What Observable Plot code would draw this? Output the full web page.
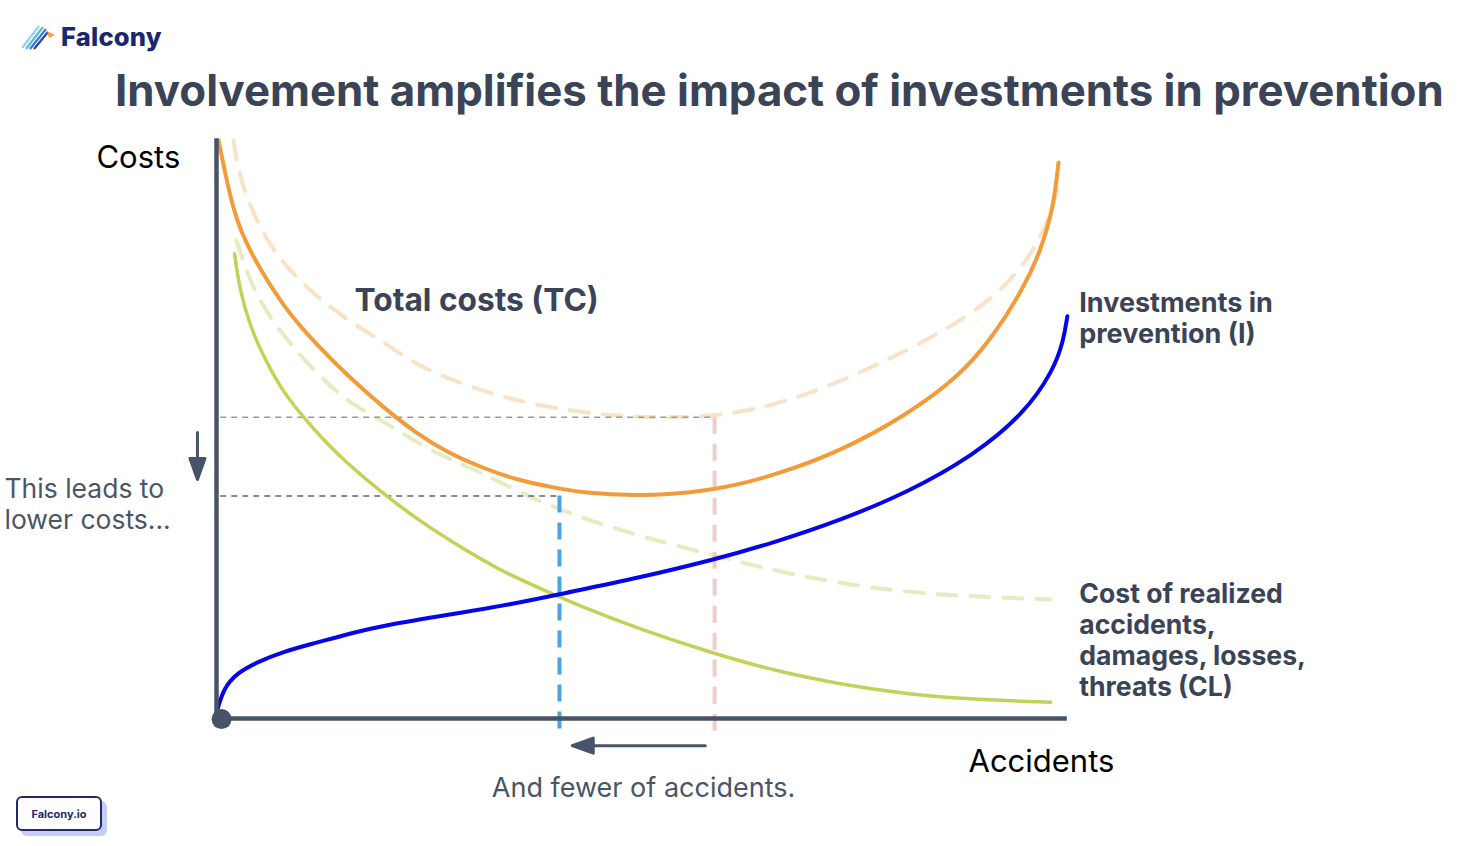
<!DOCTYPE html>
<html><head><meta charset="utf-8">
<script src="https://cdn.jsdelivr.net/npm/d3@7"></script>
<script src="https://cdn.jsdelivr.net/npm/@observablehq/plot@0.6"></script>
<style>
body{margin:0;background:#fff;font-family:Inter,"Noto Sans",sans-serif;}
#page{position:relative;width:1478px;height:846px;overflow:hidden;background:#fff;}
#header{position:relative;height:120px;}
#logo{position:absolute;left:19px;top:21px;display:flex;align-items:center;}
#logo span{font-weight:800;font-size:25.5px;color:#1b2670;margin-left:4px;letter-spacing:0.2px;}
#title{position:absolute;left:115px;top:65px;font-size:43.8px;line-height:52px;font-weight:700;color:#3a4456;white-space:nowrap;}
#badge{position:absolute;left:16px;top:796px;width:82px;height:31px;border:2px solid #1f2a6b;border-radius:6px;box-shadow:5px 5px 0 #c5cdf5;font-size:11px;font-weight:700;color:#1f2a6b;display:flex;align-items:center;justify-content:center;background:#fff;}
#chart svg{display:block;}
</style></head>
<body>
<div id="page">
  <div id="header">
    <div id="logo">
      <svg width="38" height="28" viewBox="0 0 38 28">
        <line x1="3" y1="25" x2="20" y2="3" stroke="#8fd8ea" stroke-width="2.2"/>
        <line x1="7" y1="26" x2="24" y2="4" stroke="#5fb6e4" stroke-width="2.2"/>
        <line x1="11" y1="26" x2="27" y2="6" stroke="#3b78cf" stroke-width="2.2"/>
        <line x1="15" y1="26" x2="29" y2="9" stroke="#2a44a8" stroke-width="2.2"/>
        <path d="M28 8 L36 12 L30 15 Z" fill="#f2a43a"/>
      </svg>
      <span>Falcony</span>
    </div>
    <div id="title">Involvement amplifies the impact of investments in prevention</div>
  </div>
  <div id="chart"></div>
  <div id="badge">Falcony.io</div>
</div>
<script>
// Conceptual curves (x = accidents, y = costs) (0–100 units)
const totalCosts = [[0.24,100],[2.0,87.2],[3.88,80.8],[7.88,71.1],[11.76,64.7],[15.65,59.0],[19.65,53.8],[23.53,49.3],[27.41,45.8],[31.41,43.3],[35.29,41.3],[39.18,40.1],[43.18,39.0],[49.88,38.4],[58.59,39.4],[65.53,42.0],[73.41,46.2],[81.29,52.6],[87.18,59.0],[91.06,65.4],[94.94,74.4],[96.94,80.8],[98.47,88.4],[99.06,96.2]];
const totalCostsBefore = [[2.0,100],[2.71,93.6],[4.35,87.2],[6.24,82.0],[8.59,77.5],[11.76,73.0],[15.65,68.7],[19.65,65.1],[23.53,61.2],[27.41,58.7],[33.29,55.7],[39.18,53.8],[45.06,52.6],[49.88,52.1],[58.59,52.1],[65.53,54.2],[71.41,57.1],[77.29,60.9],[83.18,65.1],[89.06,70.2],[93.06,75.1],[96.12,80.8],[98.12,87.0],[98.9,91.5]];
const accidentCosts = [[2.12,80.4],[2.71,74.4],[3.88,68.0],[5.88,61.6],[7.88,56.4],[10.24,52.1],[13.76,46.2],[19.65,38.8],[23.53,34.6],[27.41,30.8],[33.29,25.6],[39.18,21.8],[43.18,19.2],[49.88,15.4],[58.59,11.2],[65.53,8.3],[73.41,5.9],[81.29,4.2],[89.06,3.3],[98.12,2.8]];
const accidentCostsBefore = [[2.35,82.7],[3.18,78.9],[4.71,73.0],[7.88,66.1],[11.76,59.7],[15.65,54.5],[19.65,51.4],[23.53,47.8],[27.41,44.8],[31.41,42.4],[35.29,39.4],[39.18,36.9],[43.18,34.6],[49.88,31.5],[58.59,28.2],[65.53,25.6],[73.41,23.4],[81.29,21.8],[89.06,21.1],[98.12,20.6]];
const prevention = [[0,1.0],[0.82,5.2],[2.35,7.8],[4.71,9.7],[7.88,11.6],[11.76,13.1],[15.65,14.7],[19.65,16.1],[27.41,18.0],[35.29,19.9],[40.35,21.5],[49.88,24.4],[58.59,27.5],[65.53,30.4],[73.41,34.3],[81.29,39.1],[89.06,45.5],[94.94,52.6],[98.47,60.2],[99.65,65.4],[100.1,69.6]];
const oldOptimum = [{x: 58.6, y: 52.1}];
const newOptimum = [{x: 40.35, y: 38.5}];
const origin = [{x: 0.6, y: -0.1}];

const axisColor = "#475467";
const textDark = "#3a4456";
const textGray = "#4a5568";
const P = d => d[0], Q = d => d[1];

const filledArrow = {
  draw(ctx, l) {
    const hl = 21, hw = 7.5;
    ctx.moveTo(0, 0);
    ctx.lineTo(0, -(l - hl + 2));
    ctx.moveTo(-hw, hl - l);
    ctx.lineTo(0, -l);
    ctx.lineTo(hw, hl - l);
    ctx.closePath();
  }
};

const chart = Plot.plot({
  width: 1478,
  height: 726,
  marginTop: 20,
  marginBottom: 128,
  marginLeft: 216,
  marginRight: 412,
  x: {domain: [0, 100], axis: null},
  y: {domain: [0, 100], axis: null},
  style: {fontFamily: "Inter, 'Noto Sans', sans-serif", background: "white", overflow: "visible"},
  marks: [
    Plot.line(totalCostsBefore, {x: P, y: Q, stroke: "#f8e2c8", strokeWidth: 4, strokeDasharray: "19,14", curve: "basis"}),
    Plot.line(accidentCostsBefore, {x: P, y: Q, stroke: "#e5ecc2", strokeWidth: 4, strokeDasharray: "19,14", curve: "basis"}),
    Plot.ruleY(oldOptimum, {y: "y", x1: 0.5, x2: "x", stroke: "#9a9a9a", strokeWidth: 1.5, strokeDasharray: "6,5"}),
    Plot.ruleX(oldOptimum, {x: "x", y1: "y", y2: -2.9, stroke: "#eecccc", strokeWidth: 4, strokeDasharray: "17,10"}),
    Plot.ruleY(newOptimum, {y: "y", x1: 0.5, x2: "x", stroke: "#5b6578", strokeWidth: 1.5, strokeDasharray: "6,5"}),
    Plot.ruleX(newOptimum, {x: "x", y1: "y", y2: -2.9, stroke: "#4aa3e6", strokeWidth: 4, strokeDasharray: "17,10"}),
    Plot.line(accidentCosts, {x: P, y: Q, stroke: "#c5d056", strokeWidth: 3.5, curve: "basis"}),
    Plot.line(totalCosts, {x: P, y: Q, stroke: "#f29b38", strokeWidth: 4, curve: "basis"}),
    Plot.line(prevention, {x: P, y: Q, stroke: "#0505e8", strokeWidth: 4, curve: "basis"}),
    Plot.ruleX([0], {y1: -0.2, y2: 100.3, stroke: axisColor, strokeWidth: 4.5}),
    Plot.ruleY([0], {x1: 0, x2: 100.1, stroke: axisColor, strokeWidth: 4.5}),
    Plot.dot(origin, {x: "x", y: "y", r: 10, fill: axisColor}),
    Plot.vector([0], {x: -2.24, y: 49.5, length: 47, rotate: 180, anchor: "start", shape: filledArrow, stroke: axisColor, fill: axisColor, strokeWidth: 3}),
    Plot.vector([0], {x: 57.5, y: -4.7, length: 133, rotate: 270, anchor: "start", shape: filledArrow, stroke: axisColor, fill: axisColor, strokeWidth: 3}),
    Plot.text(["Costs"], {x: -14.12, y: 96.9, text: d => d, textAnchor: "start", fontSize: 31, fill: "#000"}),
    Plot.text(["Accidents"], {x: 88.47, y: -7.61, text: d => d, textAnchor: "start", fontSize: 31, fill: "#000"}),
    Plot.text(["Total costs (TC)"], {x: 16.24, y: 72.3, text: d => d, textAnchor: "start", fontSize: 31.7, fontWeight: 700, fill: textDark}),
    Plot.text(["Investments in\nprevention (I)"], {x: 101.5, y: 69.3, text: d => d, textAnchor: "start", fontSize: 27, lineHeight: 1.15, fontWeight: 700, fill: textDark}),
    Plot.text(["Cost of realized\naccidents,\ndamages, losses,\nthreats (CL)"], {x: 101.5, y: 13.58, text: d => d, textAnchor: "start", fontSize: 26.6, lineHeight: 1.165, fontWeight: 700, fill: textDark}),
    Plot.text(["This leads to\nlower costs..."], {x: -24.94, y: 37.1, text: d => d, textAnchor: "start", fontSize: 26.5, lineHeight: 1.17, fill: textGray}),
    Plot.text(["And fewer of accidents."], {x: 50.24, y: -12.1, text: d => d, textAnchor: "middle", fontSize: 27, fill: textGray})
  ]
});
document.getElementById("chart").appendChild(chart);
</script>
</body></html>
